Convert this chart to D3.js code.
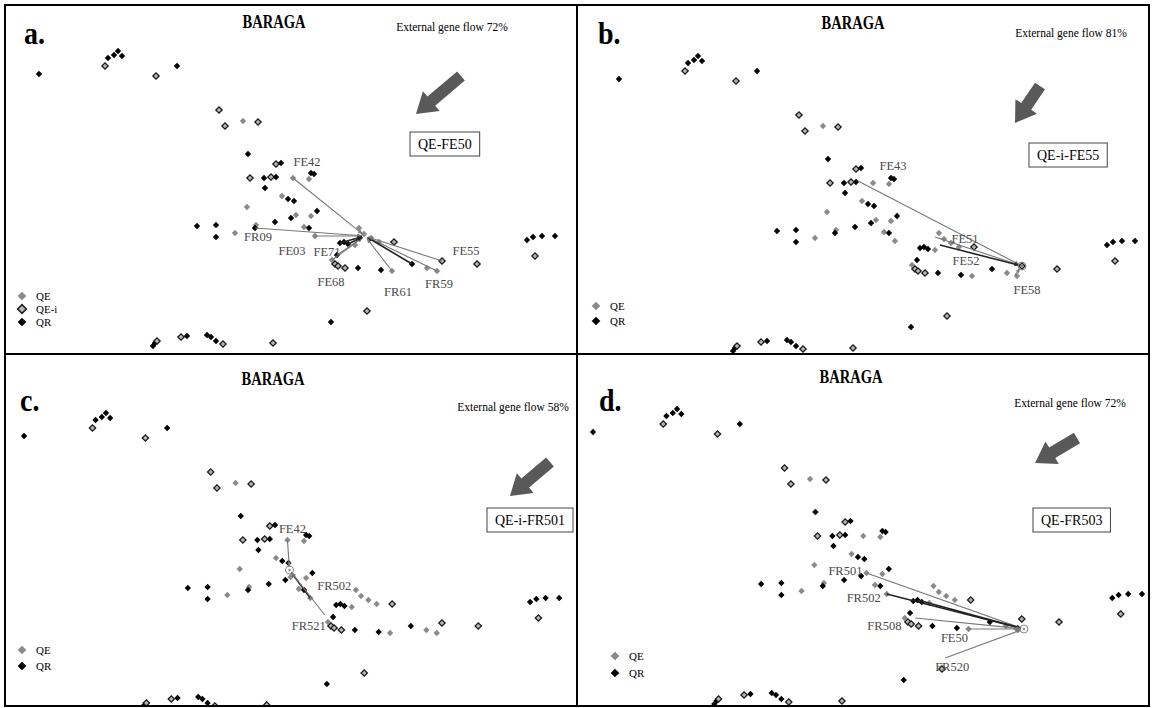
<!DOCTYPE html>
<html>
<head>
<meta charset="utf-8">
<script src="https://cdn.jsdelivr.net/npm/d3@7"></script>
<style>
  body { margin: 0; background: #fff; }
  svg text { font-family: "Liberation Serif", "Times New Roman", serif; }
</style>
</head>
<body>
<div id="chart"></div>
<script>
// PCoA coordinates of the Baraga samples (axis 1, axis 2, group)
const samples = [
    [-2.61, 1.46, 'QR'], [-1.95, 1.54, 'QE-i'], [-1.92, 1.62, 'QR'], [-1.86, 1.65, 'QR'],
    [-1.82, 1.69, 'QR'], [-1.78, 1.64, 'QR'], [-1.44, 1.44, 'QE-i'], [-1.23, 1.54, 'QR'],
    [-0.81, 1.10, 'QE-i'], [-0.75, 0.94, 'QE-i'], [-0.57, 0.99, 'QE'], [-0.42, 0.98, 'QE-i'],
    [-0.52, 0.66, 'QR'], [-0.24, 0.56, 'QE-i'], [-0.19, 0.57, 'QR'], [-0.50, 0.42, 'QE-i'],
    [-0.36, 0.42, 'QR'], [-0.29, 0.43, 'QE-i'], [-0.24, 0.43, 'QR'], [-0.07, 0.42, 'QE'],
    [0.11, 0.47, 'QR'], [0.14, 0.46, 'QR'], [0.09, 0.41, 'QE'], [-0.35, 0.32, 'QR'],
    [-0.18, 0.24, 'QE'], [-0.12, 0.21, 'QR'], [-0.06, 0.19, 'QR'], [-0.53, 0.13, 'QE'],
    [0.17, 0.09, 'QR'], [0.11, 0.04, 'QE'], [-0.04, 0.05, 'QE'], [-0.09, 0.02, 'QR'],
    [-0.25, -0.02, 'QR'], [-1.03, -0.06, 'QR'], [-0.84, -0.05, 'QR'], [-0.84, -0.17, 'QR'],
    [-0.65, -0.13, 'QE'], [-0.44, -0.05, 'QE'], [-0.45, -0.08, 'QR'], [0.04, -0.07, 'QE'],
    [0.09, -0.08, 'QR'], [0.15, -0.16, 'QE'], [0.40, -0.23, 'QR'], [0.44, -0.22, 'QR'],
    [0.48, -0.24, 'QR'], [0.55, -0.25, 'QE'], [0.37, -0.35, 'QR'], [0.32, -0.40, 'QE'],
    [0.35, -0.44, 'QE-i'], [0.38, -0.46, 'QE-i'], [0.45, -0.48, 'QE-i'], [0.58, -0.48, 'QR'],
    [0.81, -0.50, 'QR'], [0.92, -0.51, 'QE'], [0.94, -0.22, 'QE-i'], [1.12, -0.44, 'QR'],
    [1.27, -0.48, 'QE'], [1.37, -0.51, 'QE'], [1.42, -0.41, 'QE-i'], [1.77, -0.44, 'QE-i'],
    [0.67, -0.91, 'QE-i'], [0.31, -1.02, 'QR'], [-1.47, -1.26, 'QR'], [-1.45, -1.23, 'QR'],
    [-1.43, -1.21, 'QE-i'], [-1.19, -1.17, 'QE-i'], [-1.13, -1.16, 'QR'], [-0.93, -1.15, 'QR'],
    [-0.89, -1.17, 'QR'], [-0.84, -1.21, 'QR'], [-0.77, -1.24, 'QE-i'], [-0.27, -1.23, 'QE-i'],
    [2.27, -0.20, 'QR'], [2.33, -0.17, 'QR'], [2.42, -0.16, 'QR'], [2.55, -0.16, 'QR'],
    [2.35, -0.36, 'QE-i'], [0.59, -0.08, 'QE'], [0.64, -0.14, 'QE'], [0.71, -0.18, 'QE'],
    [0.79, -0.22, 'QE']
];

const panelLetters = ['a.', 'b.', 'c.', 'd.'];
const flowValues = [72, 81, 58, 72];
const focalNames = ['QE-FE50', 'QE-i-FE55', 'QE-i-FR501', 'QE-FR503'];
const legendGroups = [['QE', 'QE-i', 'QR'], ['QE', 'QR'], ['QE', 'QR'], ['QE', 'QR']];
const focalX = [0.65, 1.42, -0.05, 1.44];
const focalY = [-0.16, -0.41, 0.12, -0.51];
const focalCircle = [false, true, true, true];

// parents assigned to each focal individual: name, axis 1, axis 2, shade
const parents = [
    [['FE42', -0.07, 0.42, 'g'], ['FR09', -0.45, -0.08, 'g'], ['FE03', 0.15, -0.16, 'g'],
     ['FE71', 0.37, -0.35, 'g'], ['FE68', 0.32, -0.40, 'g'], ['FR61', 0.92, -0.51, 'g'],
     ['FR59', 1.37, -0.51, 'g'], ['', 1.12, -0.44, 'k'], ['FE55', 1.42, -0.41, 'g'],
     ['', 0.40, -0.23, 'k'], ['', 0.48, -0.24, 'k']],
    [['FE43', -0.22, 0.44, 'g'], ['FE51', 0.55, -0.12, 'g'], ['FE52', 0.60, -0.20, 'k'],
     ['FE58', 1.35, -0.50, 'g']],
    [['FE42', -0.07, 0.42, 'g'], ['FR502', 0.15, -0.16, 'k'], ['FR521', 0.29, -0.33, 'g']],
    [['FR501', -0.04, 0.05, 'g'], ['FR502', 0.15, -0.16, 'k'], ['', 0.44, -0.22, 'k'],
     ['FR508', 0.42, -0.40, 'g'], ['FE50', 0.90, -0.51, 'g'], ['FR520', 0.70, -0.80, 'g']]
];
// label offsets from each parent (px)
const labelOffsets = [
    [[14, -12], [3, 13], [-23, 19], [-10, 1], [-1, 26], [6, 25], [2, 17], null, [24, -6], null, null],
    [[35, -11], [30, 6], [26, 20], [12, 19]],
    [[5, -7], [24, -8], [-16, 15]],
    [[-21, 2], [-23, 8], null, [-31, 12], [-12, 13], [7, 13]]
];

const W = 1153, H = 708;
const panels = [
    { px: 0, py: 0, xr: [0, 600], dy: 0 },
    { px: 577, py: 0, xr: [580, 1180], dy: 5 },
    { px: 0, py: 354, xr: [-16.4, 605.8], dy: 362 },
    { px: 577, py: 354, xr: [551.5, 1189.9], dy: 358 }
];
// per-panel placement of the annotations (relative to the panel corner)
const furniture = [
    { letter: [24, 44], title: [274, 28], flow: [452, 31], arrow: [[461, 76], [416, 114]], box: [410, 132], legend: [22, 296, 13] },
    { letter: [21, 44], title: [276, 29], flow: [494, 37], arrow: [[463, 86], [438, 123]], box: [452, 143], legend: [19, 306, 15] },
    { letter: [20, 57], title: [273, 31], flow: [513, 57], arrow: [[550, 108], [510, 142]], box: [487, 154], legend: [22, 296, 16] },
    { letter: [22, 57], title: [274, 29], flow: [493, 53], arrow: [[500, 84], [458, 109]], box: [456, 154], legend: [38, 302, 17] }
];

const fillOf = { 'QE': '#8a8a8a', 'QE-i': '#b5b5b5', 'QR': '#000' };
const strokeOf = { 'QE': 'none', 'QE-i': '#1a1a1a', 'QR': 'none' };

const svg = d3.select('#chart').append('svg')
    .attr('width', W).attr('height', H);

const diamond = d3.symbol().type(d3.symbolSquare).size(20);
const bigDiamond = d3.symbol().type(d3.symbolSquare).size(38);

panels.forEach((p, i) => {
    let x = d3.scaleLinear().domain([-3, 3]).range(p.xr);
    let y = d3.scaleLinear().domain([2, -1.5]).range([20 + p.dy, 370 + p.dy]);
    let fu = furniture[i];
    let g = svg.append('g').attr('clip-path', `url(#clip${i})`);
    svg.append('clipPath').attr('id', `clip${i}`)
        .append('rect').attr('x', p.px + 2).attr('y', p.py + 2)
        .attr('width', 575).attr('height', 351);

    // samples
    g.append('g').selectAll('path').data(samples).join('path')
        .attr('d', diamond)
        .attr('transform', d => `translate(${x(d[0])},${y(d[1])}) rotate(45)`)
        .attr('fill', d => fillOf[d[2]])
        .attr('stroke', d => strokeOf[d[2]])
        .attr('stroke-width', 1.3);

    // parentage links
    let tx = x(focalX[i]), ty = y(focalY[i]);
    let links = g.append('g');
    parents[i].forEach((d, j) => {
        let sx = x(d[1]), sy = y(d[2]);
        let ang = Math.atan2(ty - sy, tx - sx);
        let ex = tx - Math.cos(ang) * 3, ey = ty - Math.sin(ang) * 3;
        let col = d[3] === 'k' ? '#222' : '#777';
        links.append('line')
            .attr('x1', sx).attr('y1', sy).attr('x2', ex).attr('y2', ey)
            .attr('stroke', col).attr('stroke-width', d[3] === 'k' ? 1.6 : 1.1);
        let hs = 5;
        links.append('path')
            .attr('d', `M${ex},${ey} L${ex - hs * Math.cos(ang - 0.4)},${ey - hs * Math.sin(ang - 0.4)} L${ex - hs * Math.cos(ang + 0.4)},${ey - hs * Math.sin(ang + 0.4)} Z`)
            .attr('fill', col);
        let off = labelOffsets[i][j];
        if (d[0] && off) {
            g.append('text')
                .attr('x', sx + off[0]).attr('y', sy + off[1])
                .attr('text-anchor', 'middle')
                .attr('font-size', 12.5).attr('fill', '#4a4a4a')
                .text(d[0]);
        }
    });
    if (focalCircle[i]) {
        g.append('circle').attr('cx', tx).attr('cy', ty).attr('r', 4)
            .attr('fill', 'none').attr('stroke', '#888').attr('stroke-width', 1);
        g.append('circle').attr('cx', tx).attr('cy', ty).attr('r', 1.2).attr('fill', '#888');
    }

    // panel furniture
    let f = svg.append('g').attr('transform', `translate(${p.px},${p.py})`);
    f.append('text')
        .attr('transform', `translate(${fu.letter[0]},${fu.letter[1]}) scale(1,1.15)`)
        .attr('font-size', 28).attr('font-weight', 'bold').text(panelLetters[i]);
    // title is set in a tall, narrow face in the original
    f.append('text')
        .attr('transform', `translate(${fu.title[0]},${fu.title[1]}) scale(1,1.35)`)
        .attr('text-anchor', 'middle')
        .attr('font-size', 14.5).attr('font-weight', 'bold').text('BARAGA');
    f.append('text').attr('x', fu.flow[0]).attr('y', fu.flow[1]).attr('text-anchor', 'middle')
        .attr('font-size', 11.5).text(`External gene flow ${flowValues[i]}%`);

    // block arrow pointing to the lower left
    let a0 = fu.arrow[0], a1 = fu.arrow[1];
    let ang = Math.atan2(a1[1] - a0[1], a1[0] - a0[0]);
    let len = Math.hypot(a1[0] - a0[0], a1[1] - a0[1]);
    let sw = 6, hw = 13, hl = 20;
    let pts = [[0, -sw], [len - hl, -sw], [len - hl, -hw], [len, 0], [len - hl, hw], [len - hl, sw], [0, sw]];
    f.append('path')
        .attr('d', d3.line()(pts))
        .attr('transform', `translate(${a0[0]},${a0[1]}) rotate(${ang * 180 / Math.PI})`)
        .attr('fill', '#595959');

    // focal box
    let bx = fu.box[0], by = fu.box[1];
    let label = f.append('text').attr('x', bx + 8).attr('y', by + 17)
        .attr('font-size', 14).text(focalNames[i]);
    let bw = label.node().getComputedTextLength() + 16;
    f.insert('rect', 'text').attr('x', bx).attr('y', by).attr('width', bw).attr('height', 24)
        .attr('fill', '#fff').attr('stroke', '#444').attr('stroke-width', 1);

    // legend
    let lg = f.append('g').attr('transform', `translate(${fu.legend[0]},${fu.legend[1]})`);
    legendGroups[i].forEach((k, j) => {
        lg.append('path').attr('d', bigDiamond)
            .attr('transform', `translate(0,${j * fu.legend[2]}) rotate(45)`)
            .attr('fill', fillOf[k]).attr('stroke', strokeOf[k]).attr('stroke-width', 1.5);
        lg.append('text').attr('x', 14).attr('y', j * fu.legend[2] + 4)
            .attr('font-size', 11).text(k);
    });
});

// borders
svg.append('rect').attr('x', 5).attr('y', 5).attr('width', 1144).attr('height', 701)
    .attr('fill', 'none').attr('stroke', '#000').attr('stroke-width', 2);
svg.append('line').attr('x1', 577).attr('x2', 577).attr('y1', 5).attr('y2', 706)
    .attr('stroke', '#000').attr('stroke-width', 2);
svg.append('line').attr('x1', 5).attr('x2', 1149).attr('y1', 354).attr('y2', 354)
    .attr('stroke', '#000').attr('stroke-width', 2);
</script>
</body>
</html>
